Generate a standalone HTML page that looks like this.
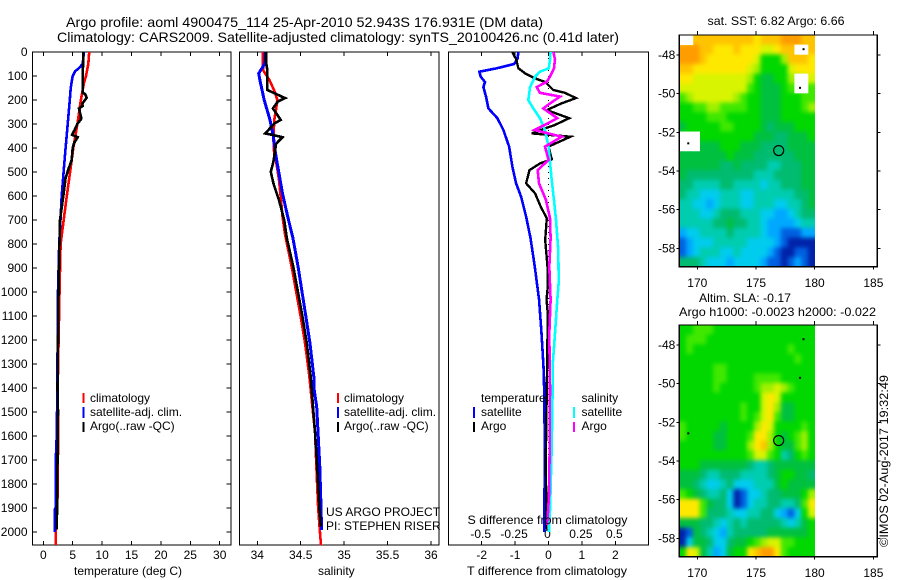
<!DOCTYPE html>
<html>
<head>
<meta charset="utf-8">
<title>Argo profile 4900475_114</title>
<style>
html,body{margin:0;padding:0;background:#fff;width:900px;height:580px;overflow:hidden}
svg{display:block;font-family:"Liberation Sans",sans-serif;font-size:12px;fill:#000}
.frame{fill:none;stroke:#000;stroke-width:1.4;shape-rendering:crispEdges}
.title{font-size:14px}
.series{fill:none;stroke-linejoin:miter;shape-rendering:crispEdges}
</style>
</head>
<body>
<svg id="chart" width="900" height="580" viewBox="0 0 900 580" xmlns="http://www.w3.org/2000/svg">
  <defs>
    <filter id="smooth-sst" x="-10%" y="-10%" width="120%" height="120%" color-interpolation-filters="sRGB"><feGaussianBlur stdDeviation="2"/></filter>
    <filter id="smooth-sla" x="-10%" y="-10%" width="120%" height="120%" color-interpolation-filters="sRGB"><feGaussianBlur stdDeviation="2.2"/></filter>
    <clipPath id="clip-sst"><rect x="679.3" y="35" width="135.7" height="231.7"/></clipPath>
    <clipPath id="clip-sla"><rect x="679.3" y="325" width="135.7" height="231.7"/></clipPath>
  </defs>
  <text class="title" x="66" y="27" textLength="477" lengthAdjust="spacingAndGlyphs">Argo profile: aoml 4900475_114 25-Apr-2010 52.943S 176.931E (DM data)</text>
  <text class="title" x="57" y="42" textLength="562" lengthAdjust="spacingAndGlyphs">Climatology: CARS2009. Satellite-adjusted climatology: synTS_20100426.nc (0.41d later)</text>

  <g id="map-sst"></g>
  <g id="map-sla"></g>

  <rect class="frame" x="32.5" y="52" width="198.5" height="493"/>
  <rect class="frame" x="239.5" y="52" width="199.5" height="493"/>
  <rect class="frame" x="448.5" y="52" width="200" height="493"/>
  <rect class="frame" x="679.3" y="35" width="198" height="231.7"/>
  <rect class="frame" x="679.3" y="325" width="198" height="231.7"/>

  <g id="ticks"></g>
  <g id="lines"></g>

  <g>
    <rect x="82.5" y="393" width="2" height="10" fill="#f00"/>
    <rect x="82.5" y="407" width="2" height="11" fill="#00f"/>
    <rect x="82.5" y="422" width="2" height="10" fill="#000"/>
    <text x="90" y="402">climatology</text>
    <text x="90" y="416">satellite-adj. clim.</text>
    <text x="90" y="430">Argo(..raw -QC)</text>
  </g>
  <g>
    <rect x="337" y="393" width="2" height="10" fill="#f00"/>
    <rect x="337" y="407" width="2" height="11" fill="#00f"/>
    <rect x="337" y="422" width="2" height="10" fill="#000"/>
    <text x="344" y="402">climatology</text>
    <text x="344" y="416">satellite-adj. clim.</text>
    <text x="344" y="430">Argo(..raw -QC)</text>
    <text x="326" y="516">US ARGO PROJECT</text>
    <text x="326" y="530">PI: STEPHEN RISER</text>
  </g>
  <g>
    <text x="481" y="402">temperature</text>
    <text x="581.5" y="402">salinity</text>
    <rect x="473" y="407" width="2" height="11" fill="#00f"/>
    <rect x="473" y="422" width="2" height="10" fill="#000"/>
    <rect x="573" y="407" width="2" height="11" fill="#0ff"/>
    <rect x="573" y="422" width="2" height="10" fill="#f0f"/>
    <text x="481" y="416">satellite</text>
    <text x="481" y="430">Argo</text>
    <text x="581.5" y="416">satellite</text>
    <text x="581.5" y="430">Argo</text>
  </g>

  <text x="74" y="575">temperature (deg C)</text>
  <text x="318" y="575">salinity</text>
  <text x="467" y="575" textLength="160" lengthAdjust="spacingAndGlyphs">T difference from climatology</text>
  <text x="467.5" y="524" textLength="160" lengthAdjust="spacingAndGlyphs">S difference from climatology</text>

  <text x="707.5" y="25" textLength="137" lengthAdjust="spacingAndGlyphs">sat. SST: 6.82 Argo: 6.66</text>
  <text x="699" y="302" textLength="92" lengthAdjust="spacingAndGlyphs">Altim. SLA: -0.17</text>
  <text x="679" y="316" textLength="197" lengthAdjust="spacingAndGlyphs">Argo h1000: -0.0023 h2000: -0.022</text>
  <text transform="translate(888,547) rotate(-90)" textLength="172" lengthAdjust="spacingAndGlyphs">©IMOS 02-Aug-2017 19:32:49</text>
</svg>
<script>
// ---------- axis tick values ----------
const depthTicks = [0,100,200,300,400,500,600,700,800,900,1000,1100,1200,1300,1400,1500,1600,1700,1800,1900,2000];
const tempTicks = [0,5,10,15,20,25,30];
const salTicks = [34,34.5,35,35.5,36];
const salTickLabels = ["34","34.5","35","35.5","36"];
const tDiffTicks = [-2,-1,0,1,2];
const sDiffTicks = [-0.5,-0.25,0,0.25,0.5];
const sDiffTickLabels = ["-0.5","-0.25","0","0.25","0.5"];
const lonTicks = [170,175,180,185];
const latTicks = [-48,-50,-52,-54,-56,-58];

// ---------- temperature panel ----------
const tempClimDepth = [0,50,100,130,200,300,400,500,600,800,1000,1400,1600,1650,1700,1900,1950,2055];
const tempClimValues = [7.8,7.65,7.26,6.9,6.4,5.8,5.1,4.55,4.0,2.95,2.75,2.45,2.55,2.55,2.45,2.4,2.15,2.1];
const tempSatDepth = [0,50,70,80,100,150,200,300,400,500,600,800,1000,1400,1600,1650,1900,1905,2000];
const tempSatValues = [6.9,6.7,5.95,5.4,5.0,4.66,4.5,4.15,3.8,3.46,3.13,2.7,2.5,2.38,2.3,2.17,2.1,1.94,1.94];
const tempArgoDepth = [0,60,100,170,175,190,200,215,225,235,270,280,300,325,345,355,380,400,450,490,525,600,700,800,1000,1400,1500,1600,1800,1990];
const tempArgoValues = [6.8,6.75,6.7,6.7,7.09,7.38,7.09,6.64,6.7,6.07,6.41,6.41,5.78,5.33,4.88,5.85,5.22,5.0,4.83,4.25,3.8,3.4,2.84,2.75,2.58,2.42,2.5,2.45,2.38,2.3];

// ---------- salinity panel ----------
const salClimDepth = [0,75,117,165,200,240,283,353,408,463,533,603,686,762,895,1103,1214,1353,1408,1478,1589,1728,1894,1992,2055];
const salClimValues = [34.066,34.066,34.14,34.2,34.23,34.215,34.196,34.185,34.19,34.22,34.25,34.27,34.29,34.32,34.396,34.5,34.55,34.6,34.615,34.635,34.665,34.68,34.7,34.72,34.733];
const salSatDepth = [0,50,75,89,117,200,283,353,422,506,589,686,775,895,1103,1214,1353,1408,1478,1589,1728,1894,1992];
const salSatValues = [34.089,34.085,34.04,34.016,34.03,34.08,34.146,34.185,34.21,34.25,34.29,34.35,34.41,34.47,34.56,34.607,34.65,34.655,34.684,34.7,34.72,34.733,34.74];
const salArgoDepth = [0,40,75,158,170,192,206,235,283,297,318,339,346,355,383,422,457,499,547,617,700,775,895,1103,1214,1353,1408,1589,1728,1894,1978];
const salArgoValues = [34.1,34.1,34.115,34.115,34.185,34.32,34.24,34.18,34.27,34.2,34.146,34.09,34.18,34.29,34.215,34.2,34.185,34.155,34.185,34.25,34.31,34.34,34.415,34.52,34.57,34.615,34.626,34.665,34.69,34.714,34.73];

// ---------- difference panel ----------
const tDiffSatDepth = [0,30,50,68,82,103,125,146,186,235,276,325,394,478,547,603,686,775,895,1033,1172,1311,1408,1644,2000];
const tDiffSatValues = [-0.9,-0.93,-1.03,-1.55,-2.07,-2.03,-1.9,-1.95,-1.87,-1.8,-1.53,-1.35,-1.18,-1.08,-0.97,-0.82,-0.67,-0.54,-0.41,-0.28,-0.21,-0.15,-0.13,-0.11,-0.125];
const tDiffArgoDepth = [0,30,68,89,110,125,158,170,192,214,242,276,304,318,339,353,394,447,464,492,547,589,645,693,783,895,978,1033,1089,1400,1700,1990];
const tDiffArgoValues = [-1.08,-0.97,-0.9,-0.7,-0.4,-0.1,0.14,0.49,0.82,0.39,-0.05,0.62,0.19,-0.1,-0.5,0.66,0,0.1,-0.25,-0.57,-0.67,-0.4,-0.23,-0.05,-0.1,-0.03,-0.02,-0.06,-0.02,-0.05,-0.08,-0.06];
const sDiffSatDepth = [0,30,68,82,103,146,200,235,276,325,394,533,617,700,825,960,1033,1172,1311,1408,1644,1900,2000];
const sDiffSatValues = [0.016,0.012,0.002,-0.064,-0.1,-0.138,-0.151,-0.114,-0.064,-0.026,0,0.024,0.041,0.056,0.073,0.076,0.066,0.049,0.031,0.031,0.024,0.012,0.004];
const sDiffArgoDepth = [0,30,68,103,125,146,170,186,214,235,276,300,325,353,394,450,492,547,617,693,775,895,1033,1172,1400,1644,1850,1970];
const sDiffArgoValues = [0.036,0.049,0.041,0.011,-0.014,-0.088,-0.064,0.086,0.011,-0.039,0.066,-0.014,-0.106,0.099,-0.026,0,-0.081,-0.071,-0.019,0.011,0.016,0.006,0.016,0.006,0.011,0.009,0.004,-0.01];

// ---------- map fields: one row per latitude band, hex colour level, "." = no data ----------
const sstLevels = [
"..cccccccccbcccdddcc",
"dddccbbbcbbbaabcc..c",
"dddcbbbbbbba7779cccb",
"ccbbbbbbbba97777abbb",
"bbaaaaaaaa9766779..a",
"aaaaaaaaaa8766678..8",
"89aaaaaa987766677788",
"77889988887766677789",
"77778887777766677777",
"67777788777765666777",
"...77777777666556667",
"...66677766655556666",
"66666667666555555666",
"66666655655554455566",
"65555555555444555566",
"55444455444434455566",
"54433344433444444556",
"44332344433444334456",
"44433455544433223455",
"44444556554432222344",
"23344445444432211122",
"12333444443333210000",
"12344433433332100110",
"55543332333321101210"
];
const slaLevels = [
"77888777777777777777",
"78887777777777777777",
"78777777777777778777",
"77777777777777777877",
"77777887777777777777",
"77777887777888877777",
"77777877777899a98777",
"777777777777aba77777",
"777777777877ab966777",
"777777777878ab866777",
"877777677779ba777787",
"87777667778bb9767897",
"77777667779bc9766897",
"77777777778aa8745787",
"77766666665445666666",
"66654455544445677665",
"66543345333444676666",
"87654453013345566679",
"bbb8655301344554458b",
"bbb8555433445532137a",
"66655434545555543467",
"01654324555556666667",
"0366533566789aa88777",
"7ba6423677bcddb87777"
];
const mapPalette = ["#0022a8","#0060e0","#00a8ff","#00ccee","#00ccb0","#00bb70","#00c040","#00d800","#40e800","#a0f000","#d8f400","#ffe800","#ffc400","#ff9c00"];

// ---------- axis functions ----------
const NS = "http://www.w3.org/2000/svg";
const yDepth = d => 52 + 0.24 * d;
const xTemp = t => 43.3 + 5.88 * t;
const xSal = s => 257.3 + 86.85 * (s - 34);
const xTDiff = t => 548.5 + 33.4 * t;
const xSDiff = s => 548.5 + 133.6 * s;
const xLon = lon => 697.3 + 11.74 * (lon - 170);
const yLat = (lat, top) => top + 20 + 19.33 * (-48 - lat);

function make(parent, tag, props, content) {
  const el = document.createElementNS(NS, tag);
  for (const k in props) el.setAttribute(k, props[k]);
  if (content !== undefined) el.textContent = content;
  parent.appendChild(el);
  return el;
}

const tickLayer = document.getElementById("ticks");
const lineLayer = document.getElementById("lines");

function tick(x1, y1, x2, y2) {
  const el = make(tickLayer, "line", {x1: x1, y1: y1, x2: x2, y2: y2, stroke: "#000", "stroke-width": 1, "shape-rendering": "crispEdges"});
  
  
}
function label(x, y, anchor, txt) {
  const el = make(tickLayer, "text", {x: x, y: y, "text-anchor": anchor}, txt);
  
  
}

// depth axis
depthTicks.forEach(d => {
  const y = yDepth(d);
  tick(32.5, y, 37, y);
  tick(226.5, y, 231, y);
  label(27.5, y + 4, "end", String(d));
});
// temperature axis
tempTicks.forEach(t => {
  const x = xTemp(t);
  tick(x, 52, x, 56);
  tick(x, 541, x, 545);
  label(x, 559, "middle", String(t));
});
// salinity axis
salTicks.forEach((s, i) => {
  const x = xSal(s);
  tick(x, 52, x, 56);
  tick(x, 541, x, 545);
  label(x, 559, "middle", salTickLabels[i]);
});
// difference axes
tDiffTicks.forEach(t => {
  const x = xTDiff(t);
  tick(x, 52, x, 56);
  tick(x, 541, x, 545);
  label(x, 559, "middle", String(t));
});
sDiffTicks.forEach((s, i) => {
  label(xSDiff(s) - 1, 538, "middle", sDiffTickLabels[i]);
});

// profile lines
function profile(depths, values, xFn, color, width, name) {
  const pts = depths.map((d, i) => xFn(values[i]).toFixed(1) + "," + yDepth(d).toFixed(1)).join(" ");
  const el = make(lineLayer, "polyline", {points: pts, stroke: color, "stroke-width": width, "class": "series"});
  
  
}
profile(tempClimDepth, tempClimValues, xTemp, "#f00", 2.6, "temperature-climatology-line");
profile(tempSatDepth, tempSatValues, xTemp, "#00f", 2.6, "temperature-satellite-line");
profile(tempArgoDepth, tempArgoValues, xTemp, "#000", 2.6, "temperature-argo-line");
profile(salClimDepth, salClimValues, xSal, "#f00", 2.6, "salinity-climatology-line");
profile(salSatDepth, salSatValues, xSal, "#00f", 3, "salinity-satellite-line");
profile(salArgoDepth, salArgoValues, xSal, "#000", 2.6, "salinity-argo-line");

const zeroLine = make(lineLayer, "line", {x1: xTDiff(0), y1: yDepth(0), x2: xTDiff(0), y2: yDepth(2000), stroke: "#000", "stroke-width": 1, "stroke-dasharray": "1 5", "shape-rendering": "crispEdges"});



profile(tDiffSatDepth, tDiffSatValues, xTDiff, "#00f", 2.6, "t-difference-satellite-line");
profile(tDiffArgoDepth, tDiffArgoValues, xTDiff, "#000", 2.4, "t-difference-argo-line");
profile(sDiffSatDepth, sDiffSatValues, xSDiff, "#0ff", 2.6, "s-difference-satellite-line");
profile(sDiffArgoDepth, sDiffArgoValues, xSDiff, "#f0f", 2.6, "s-difference-argo-line");

// maps
function drawMap(groupId, rows, top, clipId, filterId, prefix) {
  const host = document.getElementById(groupId);
  const left = 679.3, right = xLon(180), h = 231.7;
  const nR = rows.length, nC = rows[0].length;
  const cw = (right - left) / nC, ch = h / nR;
  const clipG = make(host, "g", {"clip-path": "url(#" + clipId + ")"});
  const blur = make(clipG, "g", {filter: "url(#" + filterId + ")"});
  const level = (r, c) => {
    const row = rows[Math.max(0, Math.min(nR - 1, r))];
    const col = Math.max(0, Math.min(nC - 1, c));
    let ch0 = row[col];
    for (let o = 1; ch0 === "." && o < nC; o++) {
      ch0 = row[col + o] && row[col + o] !== "." ? row[col + o] : (row[col - o] && row[col - o] !== "." ? row[col - o] : ".");
    }
    return parseInt(ch0, 16);
  };
  for (let r = -2; r < nR + 2; r++) {
    for (let c = -2; c < nC + 2; c++) {
      const cell = make(blur, "rect", {x: (left + c * cw).toFixed(2), y: (top + r * ch).toFixed(2), width: (cw + 0.6).toFixed(2), height: (ch + 0.6).toFixed(2), fill: mapPalette[level(r, c)]});
      
      
    }
  }
  rows.forEach((row, r) => {
    [...row].forEach((v, c) => {
      if (v !== ".") return;
      const hole = make(clipG, "rect", {x: (left + c * cw).toFixed(2), y: (top + r * ch).toFixed(2), width: (cw + 0.4).toFixed(2), height: (ch + 0.4).toFixed(2), fill: "#fff"});
      
      
    });
  });
  lonTicks.forEach(lon => {
    const x = xLon(lon);
    tick(x, top - 4, x, top);
    tick(x, top + h, x, top + h + 3);
    label(x, top + h + 20.5, "middle", String(lon));
  });
  latTicks.forEach(lat => {
    const y = yLat(lat, top);
    tick(left - 3, y, left, y);
    tick(left + 198, y, left + 201, y);
    label(left - 4, y + 4, "end", String(lat));
  });
  const marker = make(host, "circle", {cx: xLon(176.931), cy: yLat(-52.943, top), r: 5, fill: "none", stroke: "#000", "stroke-width": 1.2});
  
  
  [[169.23, -52.57], [179.05, -47.7], [178.75, -49.7]].forEach(p => {
    const dot = make(host, "rect", {x: xLon(p[0]) - 1, y: yLat(p[1], top) - 1, width: 2, height: 2, fill: "#000"});
    
    
  });
}
drawMap("map-sst", sstLevels, 35, "clip-sst", "smooth-sst", "sst-map");
drawMap("map-sla", slaLevels, 325, "clip-sla", "smooth-sla", "sla-map");
</script>
</body>
</html>
